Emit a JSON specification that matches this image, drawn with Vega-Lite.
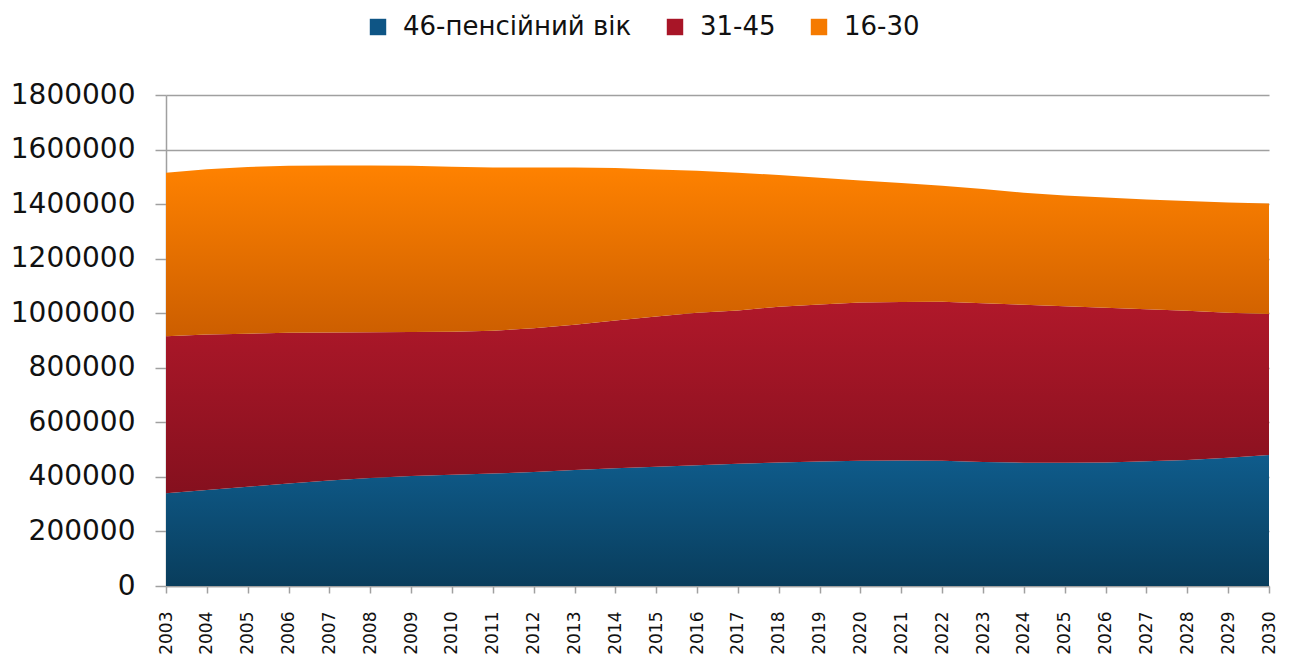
{
  "$schema": "https://vega.github.io/schema/vega-lite/v6.json",
  "width": 1103,
  "height": 491,
  "autosize": {"type": "none"},
  "padding": {"left": 166, "top": 95, "right": 20, "bottom": 76},
  "background": "white",
  "config": {
    "view": {"stroke": null},
    "font": "DejaVu Sans"
  },
  "data": {
    "values": [
      {"year": "2003", "series": "46-пенсійний вік", "value": 340000},
      {"year": "2003", "series": "31-45", "value": 576000},
      {"year": "2003", "series": "16-30", "value": 599000},
      {"year": "2004", "series": "46-пенсійний вік", "value": 352000},
      {"year": "2004", "series": "31-45", "value": 570000},
      {"year": "2004", "series": "16-30", "value": 606000},
      {"year": "2005", "series": "46-пенсійний вік", "value": 364000},
      {"year": "2005", "series": "31-45", "value": 561000},
      {"year": "2005", "series": "16-30", "value": 611000},
      {"year": "2006", "series": "46-пенсійний вік", "value": 376000},
      {"year": "2006", "series": "31-45", "value": 552000},
      {"year": "2006", "series": "16-30", "value": 613000},
      {"year": "2007", "series": "46-пенсійний вік", "value": 387000},
      {"year": "2007", "series": "31-45", "value": 542000},
      {"year": "2007", "series": "16-30", "value": 613000},
      {"year": "2008", "series": "46-пенсійний вік", "value": 396000},
      {"year": "2008", "series": "31-45", "value": 534000},
      {"year": "2008", "series": "16-30", "value": 612000},
      {"year": "2009", "series": "46-пенсійний вік", "value": 403000},
      {"year": "2009", "series": "31-45", "value": 528000},
      {"year": "2009", "series": "16-30", "value": 610000},
      {"year": "2010", "series": "46-пенсійний вік", "value": 408000},
      {"year": "2010", "series": "31-45", "value": 524000},
      {"year": "2010", "series": "16-30", "value": 605000},
      {"year": "2011", "series": "46-пенсійний вік", "value": 412000},
      {"year": "2011", "series": "31-45", "value": 524000},
      {"year": "2011", "series": "16-30", "value": 598000},
      {"year": "2012", "series": "46-пенсійний вік", "value": 418000},
      {"year": "2012", "series": "31-45", "value": 527000},
      {"year": "2012", "series": "16-30", "value": 589000},
      {"year": "2013", "series": "46-пенсійний вік", "value": 425000},
      {"year": "2013", "series": "31-45", "value": 533000},
      {"year": "2013", "series": "16-30", "value": 576000},
      {"year": "2014", "series": "46-пенсійний вік", "value": 432000},
      {"year": "2014", "series": "31-45", "value": 541000},
      {"year": "2014", "series": "16-30", "value": 559000},
      {"year": "2015", "series": "46-пенсійний вік", "value": 437000},
      {"year": "2015", "series": "31-45", "value": 551000},
      {"year": "2015", "series": "16-30", "value": 539000},
      {"year": "2016", "series": "46-пенсійний вік", "value": 443000},
      {"year": "2016", "series": "31-45", "value": 559000},
      {"year": "2016", "series": "16-30", "value": 520000},
      {"year": "2017", "series": "46-пенсійний вік", "value": 448000},
      {"year": "2017", "series": "31-45", "value": 562000},
      {"year": "2017", "series": "16-30", "value": 505000},
      {"year": "2018", "series": "46-пенсійний вік", "value": 453000},
      {"year": "2018", "series": "31-45", "value": 571000},
      {"year": "2018", "series": "16-30", "value": 483000},
      {"year": "2019", "series": "46-пенсійний вік", "value": 456000},
      {"year": "2019", "series": "31-45", "value": 576000},
      {"year": "2019", "series": "16-30", "value": 465000},
      {"year": "2020", "series": "46-пенсійний вік", "value": 459000},
      {"year": "2020", "series": "31-45", "value": 580000},
      {"year": "2020", "series": "16-30", "value": 448000},
      {"year": "2021", "series": "46-пенсійний вік", "value": 460000},
      {"year": "2021", "series": "31-45", "value": 581000},
      {"year": "2021", "series": "16-30", "value": 436000},
      {"year": "2022", "series": "46-пенсійний вік", "value": 459000},
      {"year": "2022", "series": "31-45", "value": 583000},
      {"year": "2022", "series": "16-30", "value": 425000},
      {"year": "2023", "series": "46-пенсійний вік", "value": 455000},
      {"year": "2023", "series": "31-45", "value": 582000},
      {"year": "2023", "series": "16-30", "value": 418000},
      {"year": "2024", "series": "46-пенсійний вік", "value": 452000},
      {"year": "2024", "series": "31-45", "value": 579000},
      {"year": "2024", "series": "16-30", "value": 411000},
      {"year": "2025", "series": "46-пенсійний вік", "value": 452000},
      {"year": "2025", "series": "31-45", "value": 574000},
      {"year": "2025", "series": "16-30", "value": 406000},
      {"year": "2026", "series": "46-пенсійний вік", "value": 453000},
      {"year": "2026", "series": "31-45", "value": 567000},
      {"year": "2026", "series": "16-30", "value": 404000},
      {"year": "2027", "series": "46-пенсійний вік", "value": 457000},
      {"year": "2027", "series": "31-45", "value": 558000},
      {"year": "2027", "series": "16-30", "value": 402000},
      {"year": "2028", "series": "46-пенсійний вік", "value": 462000},
      {"year": "2028", "series": "31-45", "value": 547000},
      {"year": "2028", "series": "16-30", "value": 402000},
      {"year": "2029", "series": "46-пенсійний вік", "value": 470000},
      {"year": "2029", "series": "31-45", "value": 532000},
      {"year": "2029", "series": "16-30", "value": 404000},
      {"year": "2030", "series": "46-пенсійний вік", "value": 480000},
      {"year": "2030", "series": "31-45", "value": 517000},
      {"year": "2030", "series": "16-30", "value": 405000}
    ]
  },
  "transform": [
    {"stack": "value", "groupby": ["year"], "sort": [{"field": "series", "order": "descending"}], "as": ["y0", "y1"]}
  ],
  "encoding": {
    "x": {
      "field": "year",
      "type": "ordinal",
      "scale": {"type": "point", "padding": 0},
      "axis": {
        "title": null,
        "labelAngle": -90,
        "labelFont": "DejaVu Sans",
        "labelFontSize": 17,
        "labelColor": "#111111",
        "labelPadding": 18,
        "tickSize": 7,
        "tickColor": "#a0a0a0",
        "tickWidth": 1.5,
        "domainColor": "#a0a0a0",
        "domainWidth": 1.5,
        "grid": false
      }
    },
    "y": {
      "field": "y1",
      "type": "quantitative",
      "scale": {"domain": [0, 1800000], "nice": false},
      "axis": {
        "title": null,
        "values": [0, 200000, 400000, 600000, 800000, 1000000, 1200000, 1400000, 1600000, 1800000],
        "format": "d",
        "labelFont": "DejaVu Sans",
        "labelFontSize": 28,
        "labelColor": "#111111",
        "labelPadding": 20,
        "tickSize": 11,
        "tickColor": "#a0a0a0",
        "tickWidth": 1.5,
        "domainColor": "#a0a0a0",
        "domainWidth": 1.5,
        "grid": true,
        "gridColor": "#a0a0a0",
        "gridWidth": 1.5
      }
    },
    "y2": {"field": "y0"}
  },
  "layer": [
    {
      "transform": [{"filter": "datum.series === '46-пенсійний вік'"}],
      "mark": {
        "type": "area",
        "fill": {"gradient": "linear", "x1": 0, "y1": 0, "x2": 0, "y2": 1,
          "stops": [{"offset": 0, "color": "#0f5c8c"}, {"offset": 1, "color": "#093d5c"}]}
      }
    },
    {
      "transform": [{"filter": "datum.series === '31-45'"}],
      "mark": {
        "type": "area",
        "fill": {"gradient": "linear", "x1": 0, "y1": 0, "x2": 0, "y2": 1,
          "stops": [{"offset": 0, "color": "#b0182a"}, {"offset": 1, "color": "#85101e"}]}
      }
    },
    {
      "transform": [{"filter": "datum.series === '16-30'"}],
      "mark": {
        "type": "area",
        "fill": {"gradient": "linear", "x1": 0, "y1": 0, "x2": 0, "y2": 1,
          "stops": [{"offset": 0, "color": "#ff8200"}, {"offset": 1, "color": "#cc5e00"}]}
      }
    },
    {
      "mark": {"type": "square", "size": 0, "filled": true, "opacity": 1},
      "encoding": {
        "color": {
          "field": "series",
          "type": "nominal",
          "scale": {
            "domain": ["46-пенсійний вік", "31-45", "16-30"],
            "range": ["#0e5585", "#a81527", "#f57a00"]
          },
          "legend": {
            "title": null,
            "orient": "none",
            "direction": "horizontal",
            "legendX": 199,
            "legendY": -81,
            "symbolType": "square",
            "symbolSize": 270,
            "symbolOpacity": 1,
            "symbolStrokeWidth": 0,
            "labelFont": "DejaVu Sans",
            "labelFontSize": 26,
            "labelColor": "#111111",
            "labelOffset": 12,
            "columnPadding": 30,
            "labelLimit": 400
          }
        }
      }
    }
  ]
}
